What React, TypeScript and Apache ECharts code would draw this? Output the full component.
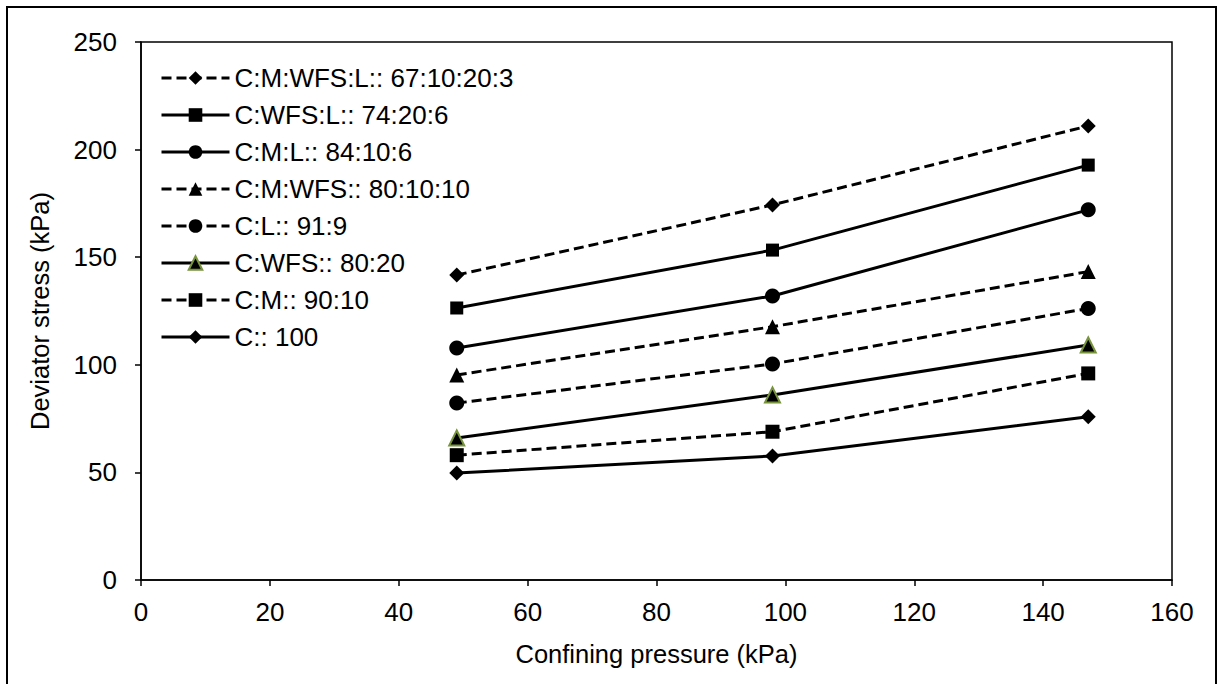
import React, { useEffect, useRef } from "react";
import * as echarts from "echarts";

const pressures = [49, 98, 147];
const seriesNames = [
  "C:M:WFS:L:: 67:10:20:3",
  "C:WFS:L:: 74:20:6",
  "C:M:L:: 84:10:6",
  "C:M:WFS:: 80:10:10",
  "C:L:: 91:9",
  "C:WFS:: 80:20",
  "C:M:: 90:10",
  "C:: 100",
];
const s1 = [141.7, 174.3, 211];
const s2 = [126.4, 153.3, 192.8];
const s3 = [107.8, 132, 172];
const s4 = [95.3, 117.7, 143.3];
const s5 = [82.2, 100.4, 126.2];
const s6 = [66, 86, 109.2];
const s7 = [58, 68.9, 96];
const s8 = [49.7, 57.6, 75.9];
const values = [s1, s2, s3, s4, s5, s6, s7, s8];
const symbols = ["diamond", "rect", "circle", "triangle", "circle", "triangle", "rect", "diamond"];
const dashed = [true, false, false, true, true, false, true, false];
const symbolSizes = [15, 13, 15, 15, 15, 15, 14, 15];

export default function App() {
  const ref = useRef<HTMLDivElement>(null);
  useEffect(() => {
    document.body.style.margin = "0";
    const chart = echarts.init(ref.current!, null, { renderer: "svg" });
    const font = "'Liberation Sans', Arial, sans-serif";
    const series = seriesNames.map((name, i) => ({
      name,
      type: "line",
      data: pressures.map((p, j) => [p, values[i][j]]),
      symbol: symbols[i],
      symbolSize: symbolSizes[i],
      showSymbol: true,
      lineStyle: {
        color: "#000",
        width: 3,
        type: dashed[i] ? [10, 5] : "solid",
      },
      itemStyle:
        i === 5
          ? { color: "#000", borderColor: "#77933C", borderWidth: 2 }
          : { color: "#000", borderWidth: 0 },
      emphasis: { disabled: true },
      z: 10 - i,
    }));
    chart.setOption({
      animation: false,
      graphic: [
        {
          type: "rect",
          shape: { x: 7, y: 7, width: 1209, height: 700 },
          style: { fill: "none", stroke: "#000", lineWidth: 2 },
          silent: true,
        },
      ],
      grid: {
        left: 141,
        right: 1223 - 1172,
        top: 42,
        bottom: 684 - 580,
        show: true,
        borderColor: "#000",
        borderWidth: 1.5,
        backgroundColor: "transparent",
      },
      legend: {
        orient: "vertical",
        left: 155,
        top: 60,
        itemWidth: 68,
        itemHeight: 17,
        itemGap: 11,
        data: seriesNames,
        lineStyle: { width: 3 },
        textStyle: { fontSize: 26, lineHeight: 26, color: "#000", fontFamily: font, padding: [0, 0, 0, 0] },
        selectedMode: false,
      },
      xAxis: {
        type: "value",
        min: 0,
        max: 160,
        interval: 20,
        name: "Confining pressure (kPa)",
        nameLocation: "middle",
        nameGap: 61,
        nameTextStyle: { fontSize: 25.5, color: "#000", fontFamily: font },
        axisLine: { show: true, lineStyle: { color: "#000", width: 1.5 } },
        axisTick: { show: true, inside: false, length: 6, lineStyle: { color: "#000", width: 1.5 } },
        axisLabel: { fontSize: 26, color: "#000", fontFamily: font, margin: 19 },
        splitLine: { show: false },
      },
      yAxis: {
        type: "value",
        min: 0,
        max: 250,
        interval: 50,
        name: "Deviator stress (kPa)",
        nameLocation: "middle",
        nameGap: 88,
        nameTextStyle: { fontSize: 25.5, color: "#000", fontFamily: font },
        axisLine: { show: true, lineStyle: { color: "#000", width: 1.5 } },
        axisTick: { show: true, inside: false, length: 6, lineStyle: { color: "#000", width: 1.5 } },
        axisLabel: { fontSize: 26, color: "#000", fontFamily: font, margin: 24 },
        splitLine: { show: false },
      },
      series,
    });
    return () => chart.dispose();
  }, []);
  return <div ref={ref} style={{ width: 1223, height: 684 }} />;
}
